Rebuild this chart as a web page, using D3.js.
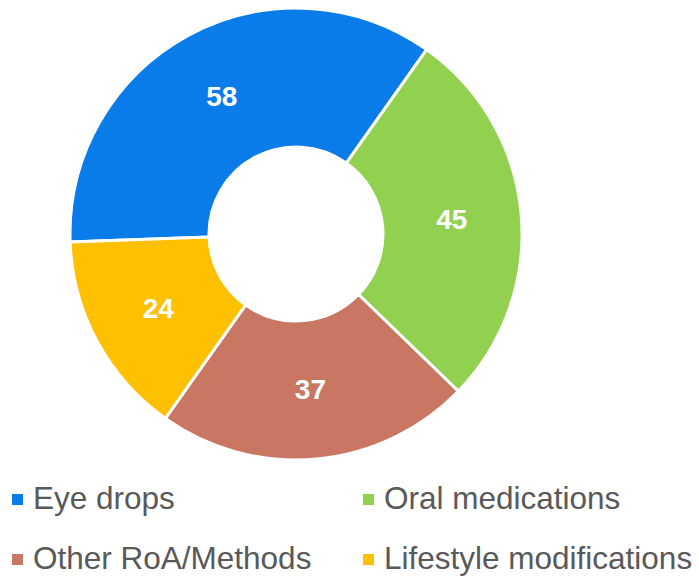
<!DOCTYPE html>
<html>
<head>
<meta charset="utf-8">
<script src="https://d3js.org/d3.v7.min.js"></script>
<style>
  body { margin: 0; background: #fff; }
  svg { display: block; }
</style>
</head>
<body>
<svg width="699" height="576"></svg>
<script>
  // data
  var categories = ["Eye drops", "Oral medications", "Other RoA/Methods", "Lifestyle modifications"];
  var values = [58, 45, 37, 24];
  var colors = ["#0A7CE9", "#92D050", "#C97662", "#FFC000"];

  var svg = d3.select("svg");
  var cx = 296, cy = 234;
  var outerR = 226, innerR = 87;
  var font = "'Liberation Sans', Arial, sans-serif";

  var pie = d3.pie()
      .sort(null)
      .startAngle(-92 * Math.PI / 180)
      .endAngle(268 * Math.PI / 180);

  var arc = d3.arc().innerRadius(innerR).outerRadius(outerR);

  var g = svg.append("g").attr("transform", "translate(" + cx + "," + cy + ")");

  var slices = pie(values);

  g.selectAll("path")
      .data(slices)
      .enter()
      .append("path")
      .attr("d", arc)
      .attr("fill", function(d, i) { return colors[i]; })
      .attr("stroke", "#fff")
      .attr("stroke-width", 3)
      .attr("stroke-linejoin", "round");

  // value labels
  g.selectAll("text")
      .data(slices)
      .enter()
      .append("text")
      .attr("transform", function(d) { return "translate(" + arc.centroid(d) + ")"; })
      .attr("text-anchor", "middle")
      .attr("dominant-baseline", "central")
      .style("font-family", font)
      .style("font-weight", "bold")
      .style("font-size", "28px")
      .style("fill", "#fff")
      .text(function(d) { return d.data; });

  // legend
  var legendX = [12, 363], legendY = [509, 569];
  var legend = svg.selectAll(".legend")
      .data(categories)
      .enter()
      .append("g")
      .attr("class", "legend")
      .attr("transform", function(d, i) {
        return "translate(" + legendX[i % 2] + "," + legendY[Math.floor(i / 2)] + ")";
      });

  legend.append("rect")
      .attr("x", 0)
      .attr("y", -15)
      .attr("width", 11)
      .attr("height", 11)
      .attr("fill", function(d, i) { return colors[i]; });

  legend.append("text")
      .attr("x", 21)
      .attr("y", 0)
      .style("font-family", font)
      .style("font-size", "31.5px")
      .style("fill", "#595959")
      .text(function(d) { return d; });
</script>
</body>
</html>
